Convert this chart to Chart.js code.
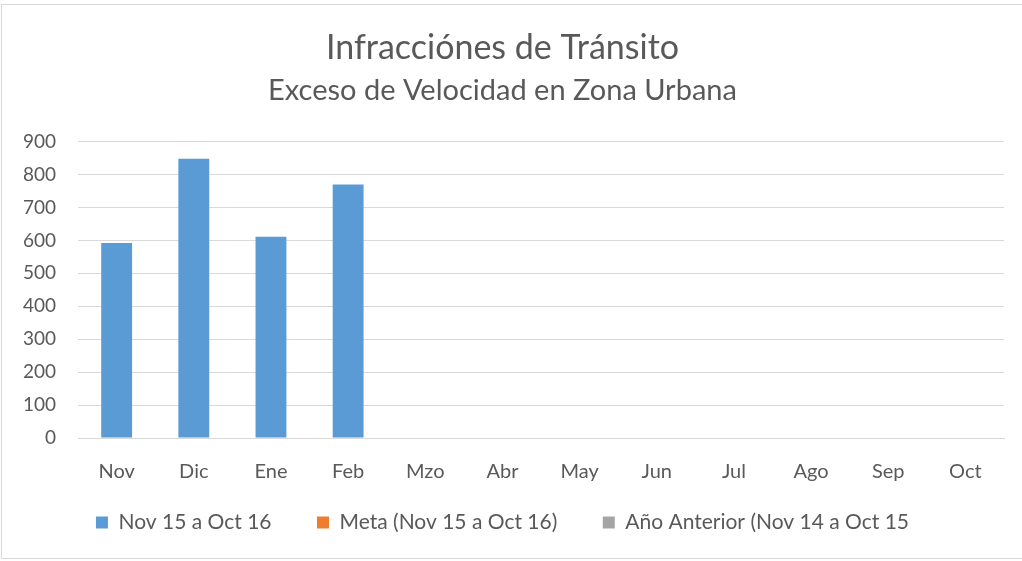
<!DOCTYPE html>
<html>
<head>
<meta charset="utf-8">
<script src="https://cdn.jsdelivr.net/npm/chart.js@4"></script>
<style>
  html, body { margin: 0; padding: 0; background: #fff; }
  #frame {
    position: absolute; left: 1px; top: 4px; width: 1030px; height: 555px;
    border: 1px solid #d9d9d9; box-sizing: border-box;
  }
  #wrap { position: absolute; left: 0; top: 0; width: 1022px; height: 561px; }
</style>
</head>
<body>
<div id="frame"></div>
<div id="wrap"><canvas id="chart"></canvas></div>
<script>
// Datos del gráfico
const meses = ['Nov','Dic','Ene','Feb','Mzo','Abr','May','Jun','Jul','Ago','Sep','Oct'];
const actual = [592, 848, 611, 770, null, null, null, null, null, null, null, null];
const meta = [null, null, null, null, null, null, null, null, null, null, null, null];
const anterior = [null, null, null, null, null, null, null, null, null, null, null, null];
const serieNombres = ['Nov 15 a Oct 16', 'Meta (Nov 15 a Oct 16)', 'Año Anterior (Nov 14 a Oct 15'];
const colores = ['#5b9bd5', '#ed7d31', '#a5a5a5'];

const fuente = 'Lato, "Open Sans", sans-serif';
const gris = '#595959';

// la leyenda usa el mismo padding en vertical y horizontal; se agrega espacio entre elementos
const etiquetasLeyenda = (chart) => {
  const items = Chart.defaults.plugins.legend.labels.generateLabels(chart);
  items.forEach((it, i) => {
    if (i < items.length - 1) it.text += '\u2003\u2003';
  });
  return items;
};

new Chart(document.getElementById('chart').getContext('2d'), {
  type: 'bar',
  data: {
    labels: meses,
    datasets: [
      { label: serieNombres[0], data: actual, backgroundColor: colores[0] },
      { label: serieNombres[1], data: meta, backgroundColor: colores[1] },
      { label: serieNombres[2], data: anterior, backgroundColor: colores[2] }
    ]
  },
  options: {
    responsive: true,
    maintainAspectRatio: false,
    animation: false,
    datasets: { bar: { grouped: false, barPercentage: 0.40, categoryPercentage: 1 } },
    layout: { padding: { left: 1, right: 18, top: 28, bottom: 18 } },
    plugins: {
      title: {
        display: true,
        text: 'Infracciónes de Tránsito',
        color: gris,
        font: { family: fuente, size: 34, weight: 'normal' },
        padding: { top: 0, bottom: 4 }
      },
      subtitle: {
        display: true,
        text: 'Exceso de Velocidad en Zona Urbana',
        color: gris,
        font: { family: fuente, size: 29, weight: 'normal' },
        padding: { top: 0, bottom: 34 }
      },
      legend: {
        position: 'bottom',
        labels: {
          color: gris,
          font: { family: fuente, size: 21 },
          boxWidth: 12,
          boxHeight: 12,
          padding: 14,
          generateLabels: etiquetasLeyenda
        }
      },
      tooltip: { enabled: false }
    },
    scales: {
      x: {
        grid: { display: false },
        border: { color: '#d9d9d9' },
        ticks: { color: gris, font: { family: fuente, size: 20 }, padding: 14 }
      },
      y: {
        min: 0,
        max: 900,
        ticks: { stepSize: 100, color: gris, font: { family: fuente, size: 19 }, padding: 22 },
        grid: { color: '#d9d9d9', drawTicks: false },
        border: { display: false }
      }
    }
  }
});
</script>
</body>
</html>
